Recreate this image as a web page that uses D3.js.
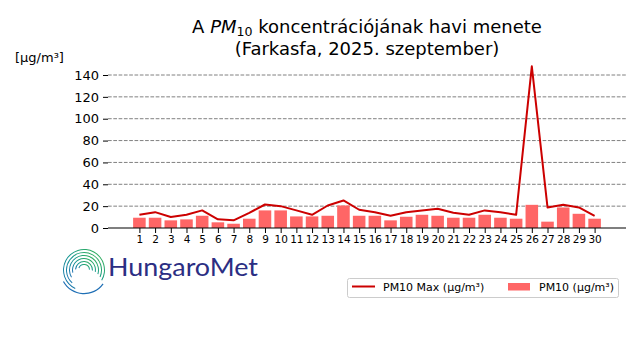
<!DOCTYPE html>
<html><head><meta charset="utf-8">
<script src="https://cdn.jsdelivr.net/npm/d3@7"></script>
<style>
body{margin:0;background:#fff;}
svg{display:block;font-family:"DejaVu Sans",sans-serif;}
</style></head>
<body><svg id="c" width="640" height="360"></svg>
<script>
const days = d3.range(1, 31);
const pm10 = [9.4,9.4,7.0,7.9,11.2,5.2,3.9,8.5,16.1,16.1,10.6,10.6,11.2,20.6,11.2,
              11.2,7.0,10.3,12.1,11.2,9.4,9.4,12.1,9.4,8.5,21.2,5.8,18.8,13.0,8.5];
const pm10Max = [12.1,14.5,10.0,12.1,16.1,7.9,7.0,13.9,21.5,20.0,16.1,12.1,20.6,25.2,16.7,
                 14.5,11.2,14.5,16.1,17.6,13.9,12.1,16.1,14.5,12.1,147.9,18.8,21.2,18.8,11.2];
const yTicks = [0,20,40,60,80,100,120,140];

const svg = d3.select("#c");
const L = 108, R = 626, B = 228;
const x = d3.scaleLinear().domain([-1, 32]).range([L, R]);
const y = d3.scaleLinear().domain([0, 140]).range([B, 75]);

// grid
svg.append("g").selectAll("line").data(yTicks.slice(1)).join("line")
  .attr("x1", L).attr("x2", R).attr("y1", d => y(d)).attr("y2", d => y(d))
  .attr("stroke", "#808080").attr("stroke-width", 1).attr("stroke-dasharray", "3.7,1.6");

// bars
const bw = 15.7 * 0.8;
svg.append("g").selectAll("rect").data(days).join("rect")
  .attr("x", (d) => x(d) - bw/2).attr("width", bw)
  .attr("y", (d,i) => y(pm10[i])).attr("height", (d,i) => B - y(pm10[i]))
  .attr("fill", "#ff6666");

// line
svg.append("path").datum(days)
  .attr("d", d3.line().x(d => x(d)).y((d,i) => y(pm10Max[i])))
  .attr("fill", "none").attr("stroke", "#cc0000").attr("stroke-width", 2)
  .attr("stroke-linejoin", "round");

// axes
const ya = svg.append("g").attr("transform", `translate(${L},0)`)
  .call(d3.axisLeft(y).tickValues(yTicks).tickSize(5).tickPadding(4));
ya.select(".domain").remove();
ya.selectAll("text").attr("font-size", 13).attr("font-family", "DejaVu Sans").attr("fill","#000");
ya.selectAll("line").attr("stroke", "#000");

const xa = svg.append("g").attr("transform", `translate(0,${B})`)
  .call(d3.axisBottom(x).tickValues(days).tickSize(5).tickPadding(3).tickFormat(d3.format("d")));
xa.select(".domain").attr("d", `M${L},0H${R}`).attr("stroke", "#000").attr("stroke-width", 1.2);
xa.selectAll("text").attr("font-size", 10.5).attr("font-family", "DejaVu Sans").attr("fill","#000");

// titles
const t1 = svg.append("text").attr("x", 367).attr("y", 33).attr("text-anchor", "middle")
  .attr("font-size", 18).attr("fill", "#000");
t1.append("tspan").text("A ");
t1.append("tspan").attr("font-style", "italic").text("PM");
t1.append("tspan").attr("font-size", 12.6).attr("dy", 2.5).text("10");
t1.append("tspan").attr("dy", -2.5).text(" koncentrációjának havi menete");
svg.append("text").attr("x", 367).attr("y", 55).attr("text-anchor", "middle")
  .attr("font-size", 18).attr("fill", "#000").text("(Farkasfa, 2025. szeptember)");
svg.append("text").attr("x", 15).attr("y", 62).attr("font-size", 13).attr("fill", "#000").text("[µg/m³]");

// legend
const lg = svg.append("g");
lg.append("rect").attr("x", 347.5).attr("y", 278.5).attr("width", 271).attr("height", 19)
  .attr("rx", 2).attr("fill", "#fff").attr("stroke", "#ccc");
lg.append("line").attr("x1", 352).attr("x2", 375).attr("y1", 286.5).attr("y2", 286.5)
  .attr("stroke", "#cc0000").attr("stroke-width", 2);
lg.append("text").attr("x", 383).attr("y", 290.5).attr("font-size", 11).text("PM10 Max (µg/m³)");
lg.append("rect").attr("x", 508).attr("y", 283).attr("width", 22).attr("height", 7.5).attr("fill", "#ff6666");
lg.append("text").attr("x", 539).attr("y", 290.5).attr("font-size", 11).text("PM10 (µg/m³)");

// logo
const logo = svg.append("g").attr("transform", "translate(84,270)");
const defs = svg.append("defs");
const grad = defs.append("linearGradient").attr("id", "lg1").attr("x1", "1").attr("y1", "0").attr("x2", "0").attr("y2", "1");
grad.append("stop").attr("offset", "0").attr("stop-color", "#3cb54a");
grad.append("stop").attr("offset", "0.5").attr("stop-color", "#14998f");
grad.append("stop").attr("offset", "1").attr("stop-color", "#1f6fb5");
const arc = d3.arc();
[21, 18, 15, 12, 9, 6].forEach((r, i) => {
  logo.append("path").attr("d", arc({innerRadius: r - 1, outerRadius: r, startAngle: -2.7 + i*0.3, endAngle: 2.1 - i*0.12}))
    .attr("fill", "url(#lg1)");
});
logo.append("path").attr("d", arc({innerRadius: 23, outerRadius: 24.2, startAngle: 2.2, endAngle: 4.2}))
  .attr("fill", "#1f6fb5");
svg.append("text").attr("x", 108).attr("y", 276).attr("font-family", "Lato, 'DejaVu Sans', sans-serif")
  .attr("font-size", 25).attr("fill", "#2b2e83")
  .attr("textLength", 150).attr("lengthAdjust", "spacingAndGlyphs").text("HungaroMet");
</script></body></html>
